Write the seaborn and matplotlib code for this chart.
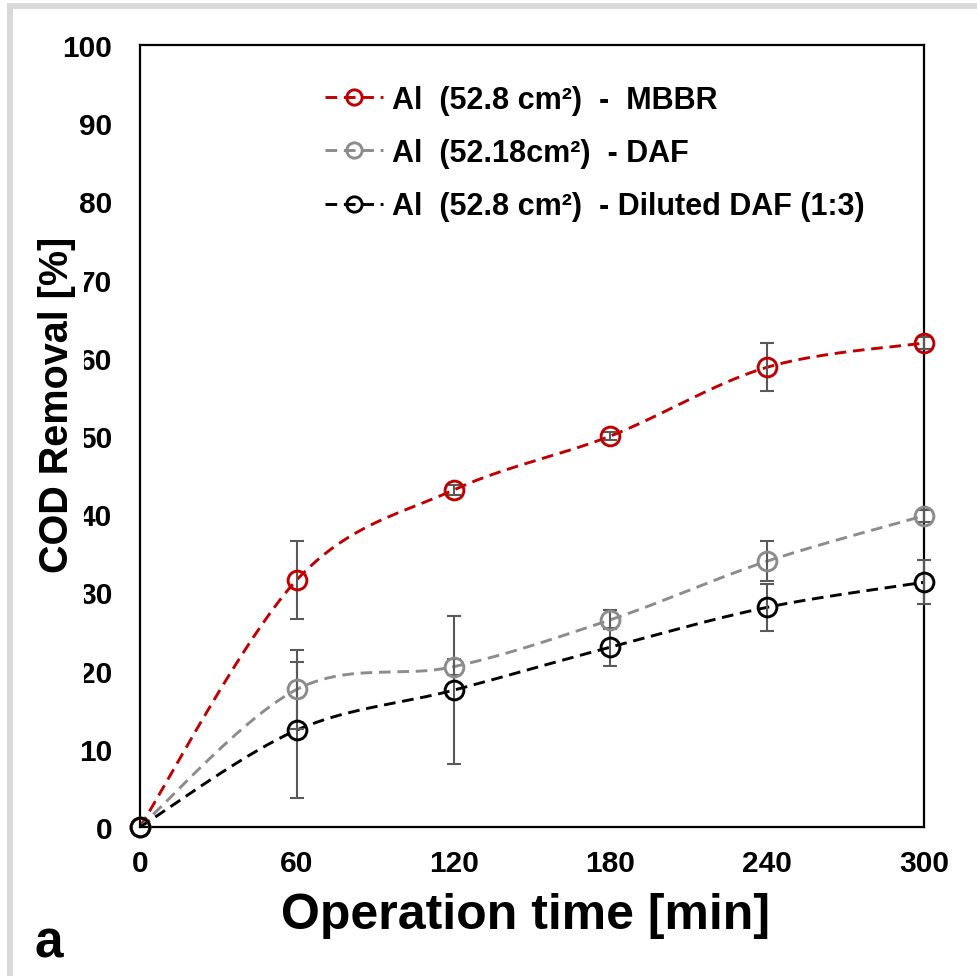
import numpy as np
import pandas as pd
import matplotlib
matplotlib.use("Agg")
import matplotlib.pyplot as plt
import seaborn as sns
from matplotlib.lines import Line2D
from matplotlib.patches import Rectangle

# Sampling times and measured COD removal (%) with standard deviations
time_min = [0, 60, 120, 180, 240, 300]
mbbr = [0, 31.6, 43.1, 50.0, 58.8, 61.9]
mbbr_err = [0, 5.0, 0.6, 0.5, 3.1, 0.8]
daf = [0, 17.6, 20.5, 26.5, 34.0, 39.8]
daf_err = [0, 5.0, 1.0, 1.2, 2.6, 0.8]
diluted = [0, 12.4, 17.5, 23.0, 28.1, 31.3]
diluted_err = [0, 8.7, 9.5, 2.4, 3.0, 2.8]

series_labels = [
    "Al  (52.8 cm²)  -  MBBR",
    "Al  (52.18cm²)  - DAF",
    "Al  (52.8 cm²)  - Diluted DAF (1:3)",
]
series_colors = ["#C00000", "#8C8C8C", "#000000"]
x_ticks = [0, 60, 120, 180, 240, 300]
y_ticks = list(range(0, 101, 10))


def smooth_curve(x, y, n=40):
    """Cubic Bezier (Catmull-Rom style) path through the measured points."""
    p = np.column_stack([x, y]).astype(float)
    ext = np.vstack([p[0], p, p[-1]])
    parts = []
    for i in range(len(p) - 1):
        p0, p1, p2, p3 = ext[i], ext[i + 1], ext[i + 2], ext[i + 3]
        c1 = p1 + (p2 - p0) / 6.0
        c2 = p2 - (p3 - p1) / 6.0
        t = np.linspace(0, 1, n, endpoint=(i == len(p) - 2))[:, None]
        seg = ((1 - t) ** 3) * p1 + 3 * ((1 - t) ** 2) * t * c1 \
            + 3 * (1 - t) * (t ** 2) * c2 + (t ** 3) * p2
        parts.append(seg)
    return np.vstack(parts)


sns.set_theme(style="white")
plt.rcParams["font.family"] = ["Liberation Sans", "DejaVu Sans"]
plt.rcParams["font.weight"] = "bold"
for key in ["text.color", "axes.labelcolor", "xtick.color", "ytick.color",
            "axes.edgecolor"]:
    plt.rcParams[key] = "black"

fig = plt.figure(figsize=(9.78, 9.79), dpi=100)
ax = fig.add_axes([0.1431, 0.1542, 0.8017, 0.7988])

all_values = [mbbr, daf, diluted]
all_errors = [mbbr_err, daf_err, diluted_err]
dash_style = (0, (4, 2.3))

for vals, errs, color, label in zip(all_values, all_errors, series_colors, series_labels):
    curve = smooth_curve(time_min, vals)
    df = pd.DataFrame({"time": curve[:, 0], "removal": curve[:, 1]})
    sns.lineplot(data=df, x="time", y="removal", ax=ax, sort=False,
                 estimator=None, color=color, linewidth=2.1,
                 linestyle=dash_style, legend=False)
    t = np.array(time_min, dtype=float)
    v = np.array(vals, dtype=float)
    e = np.array(errs, dtype=float)
    m = e > 0
    eb = ax.errorbar(t[m], v[m], yerr=e[m], fmt="none", ecolor="#595959",
                     elinewidth=1.5, capsize=5, capthick=1.5, zorder=3)
    for art in eb.lines[1] + eb.lines[2]:
        art.set_clip_on(False)
    ax.plot(t, v, linestyle="none", marker="o", markersize=13.5,
            markerfacecolor="none", markeredgecolor=color,
            markeredgewidth=2.1, zorder=4, clip_on=False)

ax.set_xlim(0, 300)
ax.set_ylim(0, 100)
ax.set_xticks(x_ticks)
ax.set_yticks(y_ticks)
ax.set_xticklabels([str(v) for v in x_ticks])
ax.set_yticklabels([str(v) for v in y_ticks])
ax.tick_params(axis="both", direction="in", length=7, width=1.5,
               labelsize=21.5, color="black", labelcolor="black")
ax.tick_params(axis="x", pad=16)
ax.tick_params(axis="y", pad=20)
for lbl in ax.get_xticklabels() + ax.get_yticklabels():
    lbl.set_fontweight("bold")
for sp in ax.spines.values():
    sp.set_visible(True)
    sp.set_color("black")
    sp.set_linewidth(1.6)
ax.set_xlabel("")
ax.set_ylabel("")
ax.grid(False)

# x-axis title
fig.text(0.537, 0.064, "Operation time [min]", ha="center", va="center",
         fontsize=36, fontweight="bold")

# y-axis title on a white panel that sits over the tick labels
fig.patches.append(Rectangle((30 / 978, 1 - 692 / 979), 54 / 978, 464 / 979,
                             transform=fig.transFigure, facecolor="white",
                             edgecolor="none", zorder=5))
fig.text(57 / 978, 1 - 405 / 979, "COD Removal [%]", rotation=90,
         ha="center", va="center", fontsize=28.5, fontweight="bold", zorder=6)

# panel letter
fig.text(34 / 978, 1 - 958 / 979, "a", ha="left", va="baseline",
         fontsize=37, fontweight="bold")

# light frame on the top and left edges
fig.patches.append(Rectangle((7 / 978, 1 - 10 / 979), 971 / 978, 6 / 979,
                             transform=fig.transFigure, facecolor="#D9D9D9",
                             edgecolor="none", zorder=0))
fig.patches.append(Rectangle((7 / 978, 1 - 977 / 979), 6 / 978, 973 / 979,
                             transform=fig.transFigure, facecolor="#D9D9D9",
                             edgecolor="none", zorder=0))

handles = [
    Line2D([], [], color=c, linestyle=dash_style, linewidth=2.1, marker="o",
           markersize=11, markerfacecolor="none", markeredgecolor=c,
           markeredgewidth=2.1)
    for c in series_colors
]
ax.legend(handles, series_labels, loc="upper left",
          bbox_to_anchor=(0.236, 0.949), frameon=False, borderpad=0,
          borderaxespad=0, handlelength=1.9, handletextpad=0.3,
          labelspacing=0.76, prop={"size": 22, "weight": "bold"})

fig.savefig("out.png", dpi=100, facecolor="white")
